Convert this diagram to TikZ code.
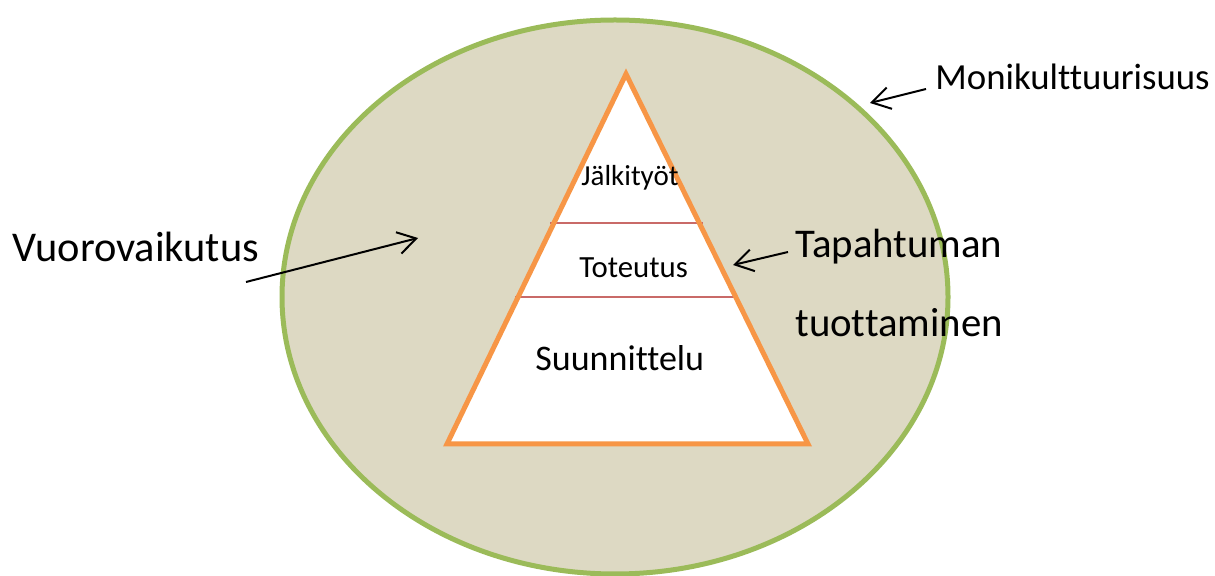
\documentclass[tikz,border=0pt]{standalone}
\usepackage{fontspec}
\setmainfont{Carlito}[Ligatures={NoCommon}]
\usepackage{xcolor}
\usetikzlibrary{arrows.meta, positioning, calc}
\definecolor{ovalfill}{HTML}{DDD9C3}
\definecolor{ovalline}{HTML}{9BBB59}
\definecolor{pyrline}{HTML}{F79646}
\definecolor{tierline}{HTML}{C0504D}

\begin{document}
\begin{tikzpicture}[
    x=0.5pt, y=-0.5pt,
    lbl/.style={inner sep=0pt, anchor=base west, text=black},
    pointer/.style={-{Straight Barb[length=9pt, width=11pt]}, line width=1pt, black},
    tier/.style={draw=tierline!85, line width=1pt}
]
  \useasboundingbox (0,0) rectangle (1215,576);

  % Oval and pyramid
  \draw[fill=ovalfill, draw=ovalline, line width=2.5pt] (615,297) ellipse [x radius=333, y radius=277];
  \coordinate (apex) at (626,74);
  \coordinate (baseL) at (447,444);
  \coordinate (baseR) at (808,444);
  \fill[white] (apex) -- (baseL) -- (baseR) -- cycle;
  \draw[tier] (550,223) -- (703,223);
  \draw[tier] (515,297) -- (738,297);
  \draw[pyrline, line width=2.5pt, line join=miter] (apex) -- (baseL) -- (baseR) -- cycle;

  % Nodes
  \node[lbl, font=\fontsize{14.5}{17}\selectfont] (jalki) at (581,186) {Jälkityöt};
  \node[lbl, font=\fontsize{15.4}{18}\selectfont] (toteutus) at (579,278) {Toteutus};
  \node[lbl, font=\fontsize{18}{21}\selectfont] (suunnittelu) at (535,371) {Suunnittelu};
  \node[lbl, font=\fontsize{21.2}{25}\selectfont] (vuoro) at (12,262) {Vuorovaikutus};
  \node[lbl, font=\fontsize{20.4}{24}\selectfont] (tapahtuman) at (795,258) {Tapahtuman};
  \node[lbl, font=\fontsize{20.4}{24}\selectfont] (tuottaminen) at (795,337) {tuottaminen};
  \node[lbl, font=\fontsize{18.4}{22}\selectfont] (moni) at (935,90) {Monikulttuurisuus};

  % Arrows
  \coordinate (vuoroTail) at (246,282);
  \coordinate (vuoroTip) at (418,238);
  \coordinate (tapaTail) at (788,252);
  \coordinate (tapaTip) at (733,265);
  \coordinate (moniTail) at (926,89);
  \coordinate (moniTip) at (870,103);
  \draw[pointer] (vuoroTail) -- (vuoroTip);
  \draw[pointer] (tapaTail) -- (tapaTip);
  \draw[pointer] (moniTail) -- (moniTip);
\end{tikzpicture}
\end{document}
